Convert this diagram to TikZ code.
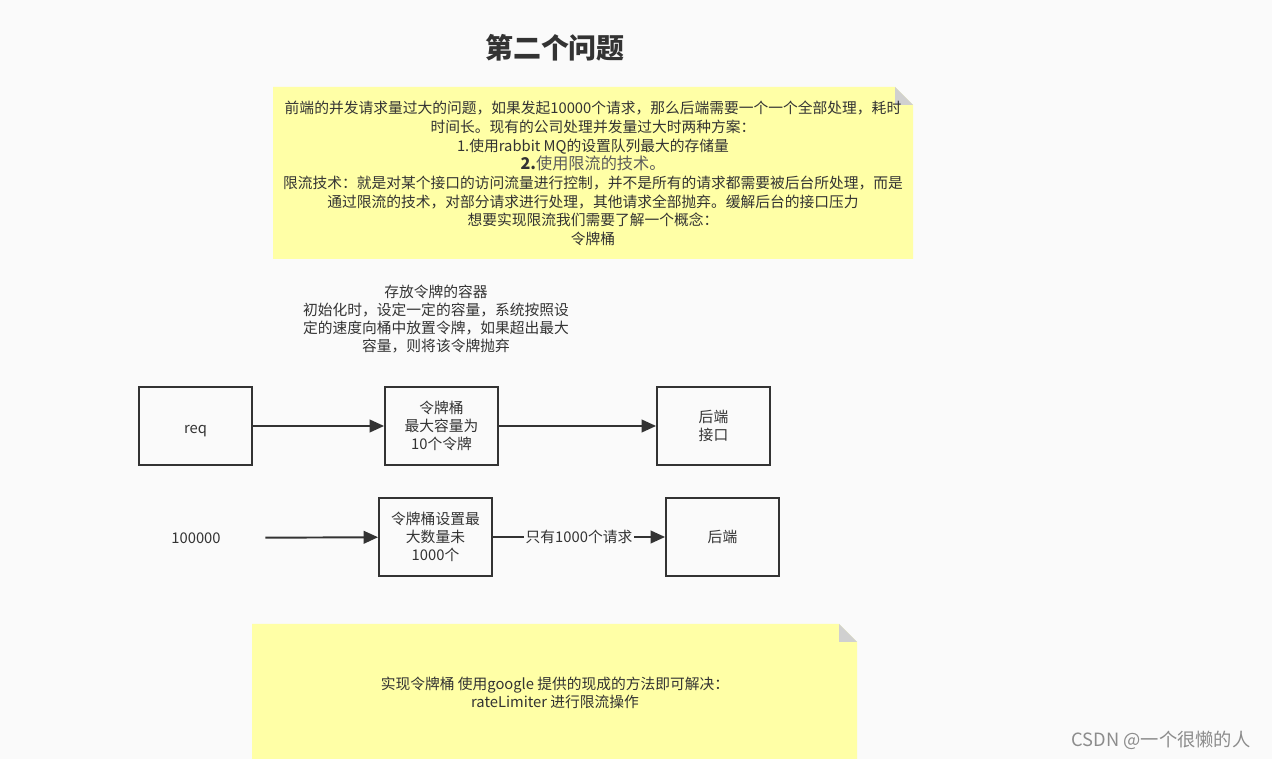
\documentclass[tikz,border=0pt]{standalone}
\usepackage{fontspec}
\setmainfont{Noto Sans CJK SC}
\usepackage{xcolor}
\usetikzlibrary{arrows.meta}
\definecolor{bgcol}{HTML}{FAFAFA}
\definecolor{notecol}{HTML}{FFFFA6}
\definecolor{foldcol}{HTML}{D0D0D0}
\definecolor{inkcol}{HTML}{333333}

\begin{document}
\begin{tikzpicture}[x=0.02cm,y=-0.02cm,
    txt/.style={font=\fontsize{8.4}{10.2}\selectfont,text=inkcol,align=center,inner sep=0pt},
    box/.style={txt,draw=inkcol,line width=1.1pt,minimum width=2.26cm,minimum height=1.56cm},
    arrow/.style={draw=inkcol,line width=1.1pt,-{Triangle[length=8.2pt,width=7.2pt]}}]
    % page and title
    \useasboundingbox[fill=bgcol] (0,0) rectangle (1272,759);
    \node[txt,font=\fontsize{15.9}{18}\selectfont\bfseries] (title) at (555,48) {第二个问题};

    % top note
    \fill[notecol] (273,87) -- (895,87) -- (913,105) -- (913,259) -- (273,259) -- cycle;
    \fill[foldcol] (895,87) -- (895,105) -- (913,105) -- cycle;
    \node[txt,font=\fontsize{8.4}{10.6}\selectfont] (intro) at (593,173.5) {%
        前端的并发请求量过大的问题，如果发起10000个请求，那么后端需要一个一个全部处理，耗时\\
        时间长。现有的公司处理并发量过大时两种方案：\\
        1.使用rabbit MQ的设置队列最大的存储量\\
        {\fontsize{9.2}{10.6}\selectfont\textbf{2.}\textcolor{inkcol!80}{使用限流的技术。}}\\
        限流技术：就是对某个接口的访问流量进行控制，并不是所有的请求都需要被后台所处理，而是\\
        通过限流的技术，对部分请求进行处理，其他请求全部抛弃。缓解后台的接口压力\\
        想要实现限流我们需要了解一个概念：\\
        令牌桶};

    % token bucket remark
    \node[txt] (remark) at (436,319) {存放令牌的容器\\
        初始化时，设定一定的容量，系统按照设\\
        定的速度向桶中放置令牌，如果超出最大\\
        容量，则将该令牌抛弃};

    % first row
    \node[box] (req) at (195.5,426) {\raisebox{-3pt}[\height][\depth]{req}};
    \node[box] (bucket) at (441.5,426) {令牌桶\\最大容量为\\10个令牌};
    \node[box] (api) at (713.5,426) {后端\\接口};
    \draw[arrow] (req) -- (bucket);
    \draw[arrow] (bucket) -- (api);

    % second row
    \node[txt,minimum width=2.76cm] (num) at (196,538) {100000};
    \node[box] (bucket2) at (435.5,537) {令牌桶设置最\\大数量未\\1000个};
    \node[box] (backend) at (722.5,537) {后端};
    \draw[arrow] (num) -- (bucket2);
    \draw[arrow] (bucket2) -- node[txt,fill=bgcol,inner sep=1pt] (only) {只有1000个请求} (backend);

    % bottom note
    \fill[notecol] (252,624) -- (839,624) -- (857,642) -- (857,759) -- (252,759) -- cycle;
    \fill[foldcol] (839,624) -- (839,642) -- (857,642) -- cycle;
    \node[txt] (howto) at (555,692.5) {实现令牌桶 使用google 提供的现成的方法即可解决：\\
        rateLimiter 进行限流操作};

    % watermark
    \node[txt,font=\fontsize{10.4}{12}\selectfont,text=black!45] (mark) at (1161,740) {CSDN @一个很懒的人};
\end{tikzpicture}
\end{document}
